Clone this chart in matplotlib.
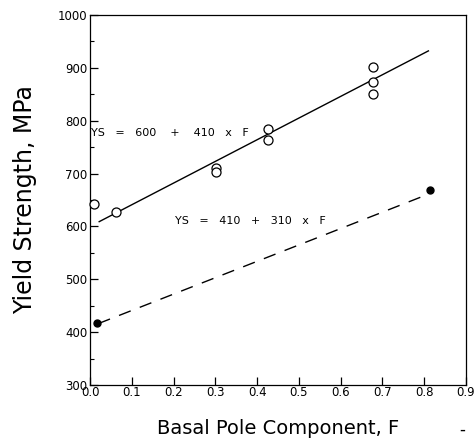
import matplotlib
matplotlib.use("Agg")
import matplotlib.pyplot as plt
import numpy as np
from matplotlib.ticker import MultipleLocator

# Open circles (measured data)
open_F = [0.01, 0.062, 0.302, 0.302, 0.425, 0.425, 0.677, 0.677, 0.677]
open_YS = [642, 627, 710, 703, 785, 764, 901, 874, 851]

# Filled circles
fill_F = [0.017, 0.814]
fill_YS = [418, 668]

# Fit lines: YS = a + b*F
fit1_a, fit1_b = 600, 410
fit1_F = [0.022, 0.81]
fit2_a, fit2_b = 410, 310
fit2_F = [0.02, 0.80]

xticks = [0.0, 0.1, 0.2, 0.3, 0.4, 0.5, 0.6, 0.7, 0.8, 0.9]
yticks = [300, 400, 500, 600, 700, 800, 900, 1000]

fig = plt.figure(figsize=(4.75, 4.44), dpi=100)
ax = fig.add_axes([90/475, 59/444, 376/475, 370/444])

f1 = np.array(fit1_F)
ax.plot(f1, fit1_a + fit1_b*f1, color='black', lw=1.0)
f2 = np.array(fit2_F)
ax.plot(f2, fit2_a + fit2_b*f2, color='black', lw=1.0, dashes=(9, 7))

ax.plot(open_F, open_YS, 'o', ms=6.5, mfc='white', mec='black', mew=0.9, clip_on=False, zorder=3)
ax.plot(fill_F, fill_YS, 'o', ms=5, mfc='black', mec='black', clip_on=False, zorder=3)

ax.set_xlim(0, 0.9)
ax.set_ylim(300, 1000)
ax.set_xticks(xticks)
ax.set_xticklabels([f"{v:.1f}" for v in xticks])
ax.set_yticks(yticks)
ax.set_yticklabels([str(v) for v in yticks])
ax.yaxis.set_minor_locator(MultipleLocator(50))
ax.tick_params(direction='in', length=6, width=0.9, labelsize=8.5, pad=2)
ax.tick_params(which='minor', direction='in', length=3, width=0.8)
ax.tick_params(axis='x', pad=1)
for s in ax.spines.values():
    s.set_linewidth(0.9)

ax.text(0.003, 776, "YS   =   600    +    410   x   F", fontsize=8, va='center', ha='left')
ax.text(0.204, 610, "YS   =   410   +   310   x   F", fontsize=8, va='center', ha='left')

ax.set_ylabel("Yield Strength, MPa", fontsize=17, labelpad=15)
ax.set_xlabel("Basal Pole Component, F", fontsize=14, labelpad=14)
fig.text(462/475, 1 - 430/444, "-", fontsize=12, ha='center', va='center')

fig.savefig("out.png", dpi=100)
